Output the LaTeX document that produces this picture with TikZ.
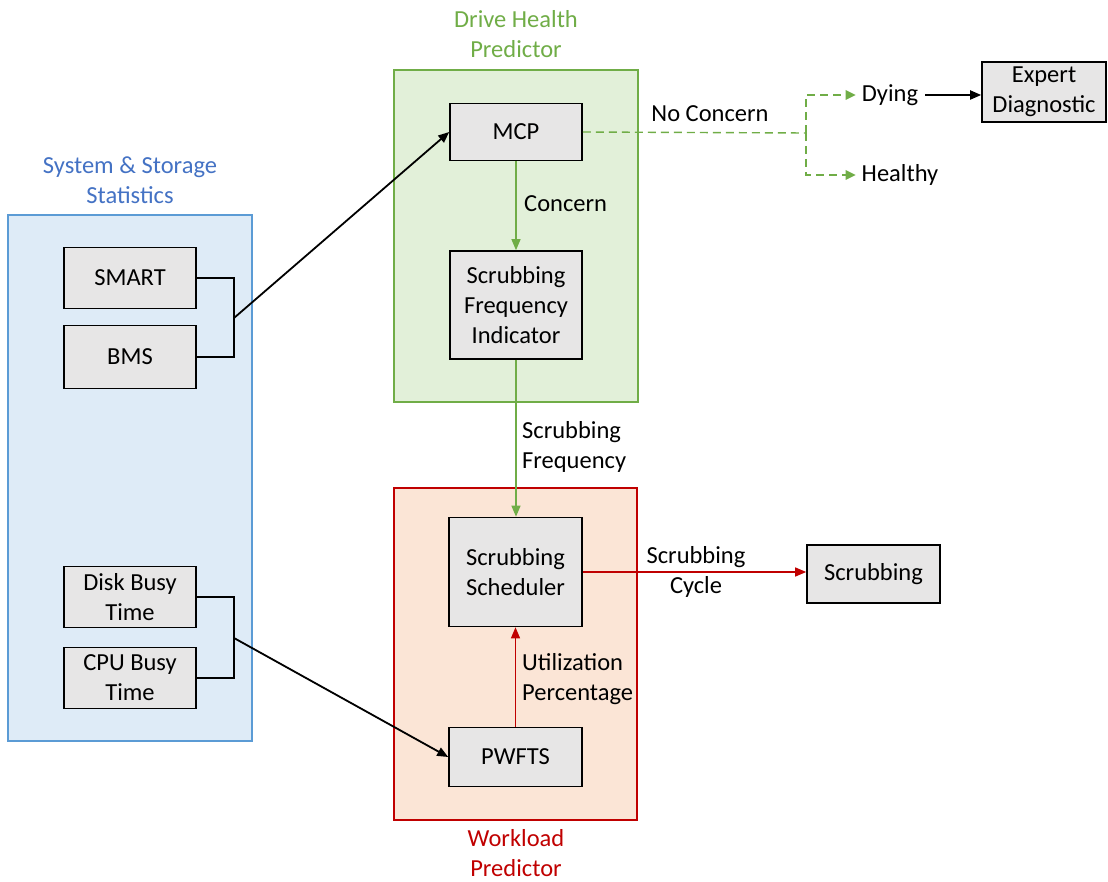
\documentclass[tikz,border=0pt]{standalone}
\usepackage{fontspec}
\setmainfont{Carlito}
\usetikzlibrary{arrows.meta}
\definecolor{bluefill}{HTML}{DEEBF7}
\definecolor{blueline}{HTML}{5B9BD5}
\definecolor{bluetext}{HTML}{4472C4}
\definecolor{greenfill}{HTML}{E2F0D9}
\definecolor{greenline}{HTML}{70AD47}
\definecolor{redfill}{HTML}{FBE5D6}
\definecolor{redline}{HTML}{C00000}
\definecolor{boxfill}{HTML}{E7E6E6}
\begin{document}
\begin{tikzpicture}[x=1pt,y=-1pt,
  font=\fontsize{24.5}{30}\selectfont,
  blk/.style={draw=black, line width=1.6pt, fill=boxfill, minimum width=132pt, align=center, inner sep=0pt},
  grp/.style={line width=1.4pt, inner sep=0pt},
  tip/.style={-{Triangle[length=11pt,width=9pt]}},
  blackarrow/.style={tip, line width=1.8pt, draw=black},
  greenarrow/.style={tip, line width=1.2pt, draw=greenline, fill=greenline},
  redarrow/.style={tip, line width=1.2pt, draw=redline, fill=redline},
  dsh/.style={draw=greenline, line width=1.4pt, dash pattern=on 8pt off 5pt},
  lbl/.style={inner sep=0pt, align=left, anchor=west}
]
\useasboundingbox (0,0) rectangle (1108,882);

% group containers
\node[grp, draw=blueline, fill=bluefill, minimum width=244pt, minimum height=526pt] (sys) at (130,478) {};
\node[grp, draw=greenline, fill=greenfill, minimum width=244pt, minimum height=332pt] (dhp) at (516,236) {};
\node[grp, draw=redline, fill=redfill, minimum width=243pt, minimum height=332pt] (wlp) at (515.5,654) {};

% group titles
\node[text=bluetext, align=center, inner sep=0pt] (systitle) at (130,180) {System \& Storage\\Statistics};
\node[text=greenline, align=center, inner sep=0pt] (dhptitle) at (516,34) {Drive Health\\Predictor};
\node[text=redline, align=center, inner sep=0pt] (wlptitle) at (516,853) {Workload\\Predictor};

% left blocks
\node[blk, minimum height=61pt] (smart) at (130,278) {SMART};
\node[blk, minimum height=63pt] (bms) at (130,357) {BMS};
\node[blk, minimum height=61pt] (disk) at (130,597) {Disk Busy\\Time};
\node[blk, minimum height=61pt] (cpu) at (130,678) {CPU Busy\\Time};

% middle blocks
\node[blk, minimum height=57pt] (mcp) at (516,132) {MCP};
\node[blk, minimum height=108pt] (sfi) at (516,305) {Scrubbing\\Frequency\\Indicator};
\node[blk, minimum height=109pt, minimum width=133pt] (sched) at (515.5,572) {Scrubbing\\Scheduler};
\node[blk, minimum height=59pt, minimum width=133pt] (pwfts) at (515.5,757) {PWFTS};

% right blocks
\node[blk, minimum height=58pt, minimum width=133pt] (scrub) at (873.5,574) {Scrubbing};
\node[blk, minimum height=60pt, minimum width=124pt] (expert) at (1044,92) {Expert\\Diagnostic};
\node[inner sep=0pt] (dying) at (890,95) {Dying};
\node[inner sep=0pt] (healthy) at (900,175) {Healthy};

% brackets and inputs
\coordinate (j1) at (234,318);
\coordinate (j2) at (234,638);
\draw[line width=1.6pt] (smart.east) -| (j1) |- (bms.east);
\draw[line width=1.6pt] (disk.east) -| (j2) |- (cpu.east);
\draw[blackarrow] (j1) -- (mcp.west);
\draw[blackarrow] (j2) -- (pwfts.west);

% green flows
\draw[greenarrow] (mcp.south) -- (sfi.north);
\node[lbl] (concern) at (524,204) {Concern};
\draw[greenarrow] (sfi.south) -- (sched.north -| sfi.south);
\node[lbl] (sfreq) at (522,447) {Scrubbing\\Frequency};

% dashed no-concern branch
\coordinate (split) at (806,133);
\draw[dsh] (mcp.east) -- (split);
\draw[dsh] (split) |- ([xshift=-8pt]dying.west);
\draw[dsh] (split) |- ([xshift=-8pt]healthy.west);
\fill[greenline] ([xshift=-16pt]dying.west) ++(0,-5) -- ++(10,5) -- ++(-10,5) -- cycle;
\fill[greenline] ([xshift=-16pt]healthy.west) ++(0,-5) -- ++(10,5) -- ++(-10,5) -- cycle;
\node[inner sep=0pt] (nocon) at (710,114) {No Concern};
\draw[blackarrow] ([xshift=7pt]dying.east) -- (expert.west |- dying.east);

% red flows
\draw[redarrow] (pwfts.north) -- (sched.south);
\node[lbl] (util) at (522,679) {Utilization\\Percentage};
\draw[redarrow] (sched.east) -- (scrub.west |- sched.east);
\node[inner sep=0pt, align=center] (cycle) at (696,572) {Scrubbing\\Cycle};
\end{tikzpicture}
\end{document}
